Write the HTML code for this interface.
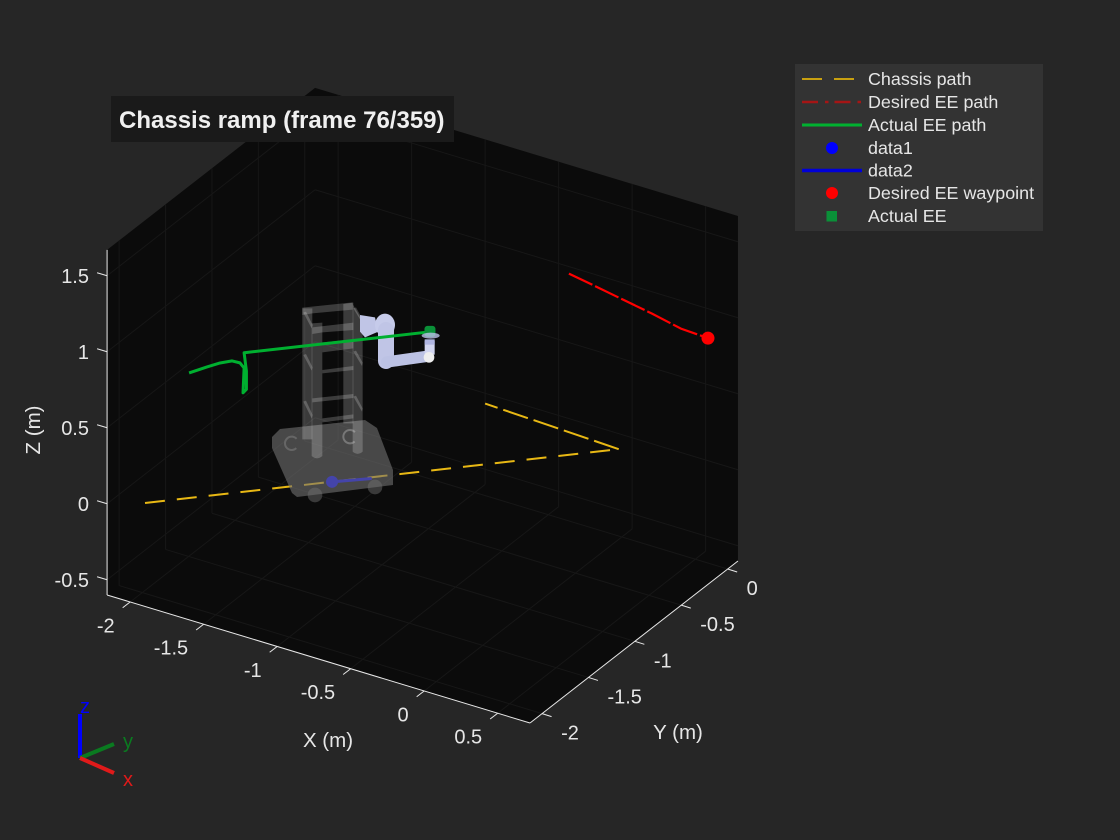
<!DOCTYPE html>
<html lang="en">
<head>
<meta charset="utf-8">
<title>Chassis ramp</title>
<style>
html,body{margin:0;padding:0;background:#262626;}
#chart{display:block;width:1120px;height:840px;font-family:"Liberation Sans",Arial,sans-serif;}
text{font-family:"Liberation Sans",Arial,sans-serif;}
</style>
</head>
<body>
<svg id="chart" xmlns="http://www.w3.org/2000/svg" width="1120" height="840" viewBox="0 0 1120 840">
  <rect x="0" y="0" width="1120" height="840" fill="#262626"/>
  <polygon id="axes-bg" fill="#0b0b0b" points=""/>
  <g id="grid" fill="none"></g>
  <g id="axes"></g>
  <g id="series-under"></g>

  <g transform="translate(240,280) scale(0.33333)">
    <circle cx="225" cy="645" r="22" fill="#3a3a3a"/>
    <circle cx="405" cy="621" r="22" fill="#3a3a3a"/>
    <polygon points="96,471 120,447 375,420 411,444 459,570 459,615 171,651 156,639 96,504" fill="#717171" fill-opacity="0.6"/>
    <circle cx="155" cy="490" r="20" fill="none" stroke="#666" stroke-width="6" stroke-dasharray="94 32" stroke-dashoffset="-16"/>
    <circle cx="330" cy="470" r="20" fill="none" stroke="#777" stroke-width="6" stroke-dasharray="94 32" stroke-dashoffset="-16"/>
  </g>
  <g transform="translate(240,280) scale(0.33333)" fill="#fff" fill-opacity="0.2">
    <polygon points="187,85 217,85 217,478 187,478"/>
    <path d="M215,130 L247,128 L247,528 Q231,542 215,528 Z"/>
    <polygon points="310,72 340,68 340,430 310,430"/>
    <path d="M338,72 L368,125 L368,515 Q353,528 338,515 Z"/>
    <polygon points="187,83 338,67 338,89 217,100 187,105"/>
    <polygon points="217,142 340,128 340,150 247,157 217,162"/>
    <polygon points="247,187 340,178 340,205 247,217"/>
    <polygon points="247,270 340,258 340,270 247,280"/>
    <polygon points="217,355 340,342 340,354 217,367"/>
    <polygon points="247,415 340,403 340,415 247,427"/>
    <polygon points="190,98 198,95 218,135 215,145"/>
    <polygon points="340,85 348,82 368,118 366,128"/>
    <polygon points="190,225 198,222 218,262 215,272"/>
    <polygon points="340,215 348,212 368,248 366,258"/>
    <polygon points="190,365 198,362 218,405 215,415"/>
    <polygon points="340,350 348,347 368,385 366,395"/>
  </g>

  <g transform="translate(240,280) scale(0.33333)">
    <polygon points="360,105 405,112 415,155 375,172 360,155" fill="#c0c5e6"/>
    <ellipse cx="435" cy="135" rx="30" ry="34" fill="#c6cbea"/>
    <polyline points="438,150 438,243" fill="none" stroke="#c0c5e6" stroke-width="48" stroke-linecap="round"/>
    <polyline points="440,246 555,230" fill="none" stroke="#bcc2e4" stroke-width="34" stroke-linecap="round"/>
    <rect x="554" y="182" width="30" height="42" fill="#d2d6f0"/>
    <rect x="554" y="178" width="30" height="16" fill="#b0b6e2"/>
    <circle cx="567" cy="232" r="16" fill="#eeeeee"/>
  </g>

  <g id="series-over"></g>

  <g transform="translate(240,280) scale(0.33333)">
    <ellipse cx="572" cy="167" rx="27" ry="9" fill="#bcc2e8" fill-opacity="0.8"/>
  </g>

  <g>
    <rect x="111" y="96" width="343" height="46" fill="#1a1a1a"/>
    <text x="119" y="128" font-size="24" font-weight="700" fill="#f0f0f0">Chassis ramp (frame 76/359)</text>
  </g>

  <g>
    <rect x="795" y="64" width="248" height="167" fill="#333333"/>
    <g>
      <line x1="802" y1="79" x2="862" y2="79" stroke="#c8a010" stroke-width="2" stroke-dasharray="20 12"/>
      <text x="868" y="85" font-size="17.900" fill="#e6e6e6">Chassis path</text>
    </g>
    <g>
      <line x1="802" y1="102" x2="862" y2="102" stroke="#a51515" stroke-width="2.6" stroke-dasharray="16 7 3.500 6"/>
      <text x="868" y="108" font-size="17.900" fill="#e6e6e6">Desired EE path</text>
    </g>
    <g>
      <line x1="802" y1="125" x2="862" y2="125" stroke="#00b030" stroke-width="3"/>
      <text x="868" y="131" font-size="17.900" fill="#e6e6e6">Actual EE path</text>
    </g>
    <g>
      <circle cx="832" cy="148" r="6" fill="#0000ff"/>
      <text x="868" y="154" font-size="17.900" fill="#e6e6e6">data1</text>
    </g>
    <g>
      <line x1="802" y1="170.500" x2="862" y2="170.500" stroke="#0000d8" stroke-width="3.500"/>
      <text x="868" y="176.500" font-size="17.900" fill="#e6e6e6">data2</text>
    </g>
    <g>
      <circle cx="832" cy="193" r="6" fill="#ff0000"/>
      <text x="868" y="199" font-size="17.900" fill="#e6e6e6">Desired EE waypoint</text>
    </g>
    <g>
      <rect x="826.500" y="211" width="10.500" height="10.500" fill="#0a9038"/>
      <text x="868" y="222" font-size="17.900" fill="#e6e6e6">Actual EE</text>
    </g>
  </g>

  <g>
    <line x1="80" y1="758" x2="80" y2="714" stroke="#0000ff" stroke-width="4"/>
    <line x1="80" y1="758" x2="114" y2="744" stroke="#0a7a20" stroke-width="4"/>
    <line x1="80" y1="758" x2="114" y2="773" stroke="#e01a1a" stroke-width="4"/>
    <text x="85" y="713" font-size="20" text-anchor="middle" fill="#0000ff">z</text>
    <text x="128" y="748" font-size="20" text-anchor="middle" fill="#0a7a20">y</text>
    <text x="128" y="786" font-size="20" text-anchor="middle" fill="#e01a1a">x</text>
  </g>
</svg>
<script>
/* ---- chart data ---- */
var xTicks = [-2, -1.5, -1, -0.5, 0, 0.5];
var yTicks = [-2, -1.5, -1, -0.5, 0];
var zTicks = [-0.5, 0, 0.5, 1, 1.5];
var xTickLabels = ['-2', '-1.5', '-1', '-0.5', '0', '0.5'];
var yTickLabels = ['-2', '-1.5', '-1', '-0.5', '0'];
var zTickLabels = ['-0.5', '0', '0.5', '1', '1.5'];

var chassisX = [-1.976, 0.006, -0.935];
var chassisY = [-2.008, -0.043, 0.008];
var chassisZ = [0, 0, 0];

var desiredX = [-0.386, -0.171, 0.043, 0.273, 0.509, 0.701];
var desiredY = [0.041, -0.006, -0.055, -0.107, -0.169, -0.182];
var desiredZ = [1, 1, 1, 1, 1, 1];

var actualX = [-1.622, -1.572, -1.533, -1.487, -1.436, -1.384, -1.390, -1.372, -1.372, -1.384, -0.605];
var actualY = [-2.094, -1.980, -1.901, -1.844, -1.840, -1.878, -1.880, -1.872, -1.872, -1.878, -1.109];
var actualZ = [1, 1, 1, 1, 1, 1, 0.836, 0.86, 0.98, 1.1, 1.1];

var data1X = [-1.193];
var data1Y = [-1.233];
var data1Z = [0];

var data2X = [-1.193, -1.020];
var data2Y = [-1.233, -1.080];
var data2Z = [0, 0];

var waypointX = [0.701];
var waypointY = [-0.182];
var waypointZ = [1];

var actualEeX = [-0.605];
var actualEeY = [-1.109];
var actualEeZ = [1.1];

var xLimits = [-2.157, 0.72];
var yLimits = [-2.13, 0.111];
var zLimits = [-0.6, 1.67];

/* ---- projection ---- */
var NS = 'http://www.w3.org/2000/svg';
var gridColor = '#171717';
function px(x, y, z) {
  return 530 + (x - xLimits[1]) * 147 + (y - yLimits[0]) * 92.8;
}
function py(x, y, z) {
  return 723 + (x - xLimits[1]) * 44.5 - (y - yLimits[0]) * 72.3 - (z - zLimits[0]) * 152;
}
function make(tag, parent, attrs) {
  var el = document.createElementNS(NS, tag);
  for (var k in attrs) { el.setAttribute(k, attrs[k]); }
  parent.appendChild(el);
  return el;
}
function seg(parent, a, b, stroke, width) {
  return make('line', parent, {
    x1: px(a[0], a[1], a[2]), y1: py(a[0], a[1], a[2]),
    x2: px(b[0], b[1], b[2]), y2: py(b[0], b[1], b[2]),
    stroke: stroke || 'none', 'stroke-width': width || 1
  });
}
function pointsOf(xs, ys, zs) {
  var out = [];
  for (var i = 0; i < xs.length; i++) {
    out.push(px(xs[i], ys[i], zs[i]).toFixed(2) + ',' + py(xs[i], ys[i], zs[i]).toFixed(2));
  }
  return out.join(' ');
}

var x0 = xLimits[0], x1 = xLimits[1], y0 = yLimits[0], y1 = yLimits[1], z0 = zLimits[0], z1 = zLimits[1];

/* axes background */
document.getElementById('axes-bg').setAttribute('points', pointsOf(
  [x0, x1, x1, x1, x0, x0],
  [y0, y0, y1, y1, y1, y0],
  [z0, z0, z0, z1, z1, z1]
));

/* grid */
var grid = document.getElementById('grid');
xTicks.forEach(function (t) {
  var floorLine = seg(grid, [t, y0, z0], [t, y1, z0], gridColor, 1);
  
  
  var wallLine = seg(grid, [t, y1, z0], [t, y1, z1], gridColor, 1);
  
  
});
yTicks.forEach(function (t) {
  var floorLine = seg(grid, [x0, t, z0], [x1, t, z0], gridColor, 1);
  
  
  var wallLine = seg(grid, [x0, t, z0], [x0, t, z1], gridColor, 1);
  
  
});
zTicks.forEach(function (t) {
  var leftLine = seg(grid, [x0, y0, t], [x0, y1, t], gridColor, 1);
  
  
  var rightLine = seg(grid, [x0, y1, t], [x1, y1, t], gridColor, 1);
  
  
});

/* axis rulers, ticks, labels */
var axes = document.getElementById('axes');
var rulerColor = '#e8e8e8';
var xRuler = seg(axes, [x0, y0, z0], [x1, y0, z0], rulerColor, 1);


var yRuler = seg(axes, [x1, y0, z0], [x1, y1, z0], rulerColor, 1);


var zRuler = seg(axes, [x0, y0, z0], [x0, y0, z1], rulerColor, 1);



function tickLabel(parent, x, y, text, anchor) {
  var el = make('text', parent, { x: x, y: y, 'font-size': 20, fill: '#e6e6e6', 'text-anchor': anchor });
  el.textContent = text;
  return el;
}
xTicks.forEach(function (t, i) {
  var X = px(t, y0, z0), Y = py(t, y0, z0);
  var tk = make('line', axes, { x1: X, y1: Y, x2: X - 7.5, y2: Y + 5.8, stroke: rulerColor, 'stroke-width': 1 });
  
  
  var lb = tickLabel(axes, X - 15.5, Y + 30.5, xTickLabels[i], 'end');
  
  
});
yTicks.forEach(function (t, i) {
  var X = px(x1, t, z0), Y = py(x1, t, z0);
  var tk = make('line', axes, { x1: X, y1: Y, x2: X + 9.5, y2: Y + 3, stroke: rulerColor, 'stroke-width': 1 });
  
  
  var lb = tickLabel(axes, X + 19, Y + 26, yTickLabels[i], 'start');
  
  
});
zTicks.forEach(function (t, i) {
  var X = px(x0, y0, t), Y = py(x0, y0, t);
  var tk = make('line', axes, { x1: X, y1: Y, x2: X - 10, y2: Y - 3, stroke: rulerColor, 'stroke-width': 1 });
  
  
  var lb = tickLabel(axes, 89, Y + 7, zTickLabels[i], 'end');
  
  
});
var xTitle = make('text', axes, { x: 328, y: 747, 'font-size': 20.5, fill: '#e6e6e6', 'text-anchor': 'middle' });
xTitle.textContent = 'X (m)';


var yTitle = make('text', axes, { x: 678, y: 739, 'font-size': 20.5, fill: '#e6e6e6', 'text-anchor': 'middle' });
yTitle.textContent = 'Y (m)';


var zTitle = make('text', axes, { x: 0, y: 0, 'font-size': 20.5, fill: '#e6e6e6', 'text-anchor': 'middle', transform: 'translate(40,430) rotate(-90)' });
zTitle.textContent = 'Z (m)';



/* series beneath the robot */
var under = document.getElementById('series-under');
var over = document.getElementById('series-over');

var chassisOut = make('polyline', under, {
  points: pointsOf(chassisX.slice(0, 2), chassisY.slice(0, 2), chassisZ.slice(0, 2)), fill: 'none', stroke: '#e8b814',
  'stroke-width': 2, 'stroke-dasharray': '20 12'
});



var chassisBack = make('polyline', under, {
  points: pointsOf(chassisX.slice(1), chassisY.slice(1), chassisZ.slice(1)), fill: 'none', stroke: '#e8b814',
  'stroke-width': 2, 'stroke-dasharray': '26 6'
});



var data2Line = make('polyline', under, {
  points: pointsOf(data2X, data2Y, data2Z), fill: 'none', stroke: '#0000ff', 'stroke-width': 3
});



var data1Marker = make('circle', under, {
  cx: px(data1X[0], data1Y[0], data1Z[0]), cy: py(data1X[0], data1Y[0], data1Z[0]), r: 6, fill: '#0000ff'
});



var desiredLine = make('polyline', under, {
  points: pointsOf(desiredX, desiredY, desiredZ), fill: 'none', stroke: '#ff0000',
  'stroke-width': 2.2, 'stroke-dasharray': '26 3'
});



var waypointMarker = make('circle', under, {
  cx: px(waypointX[0], waypointY[0], waypointZ[0]), cy: py(waypointX[0], waypointY[0], waypointZ[0]), r: 6.5, fill: '#ff0000'
});



/* series drawn above the robot */
var actualLine = make('polyline', over, {
  points: pointsOf(actualX, actualY, actualZ), fill: 'none', stroke: '#00b030',
  'stroke-width': 3, 'stroke-linejoin': 'round'
});



var eeX = px(actualEeX[0], actualEeY[0], actualEeZ[0]);
var eeY = py(actualEeX[0], actualEeY[0], actualEeZ[0]);
var eeMarker = make('rect', over, { x: eeX - 5.5, y: eeY - 6, width: 11, height: 11, rx: 3, fill: '#0a9038' });


</script>
</body>
</html>
